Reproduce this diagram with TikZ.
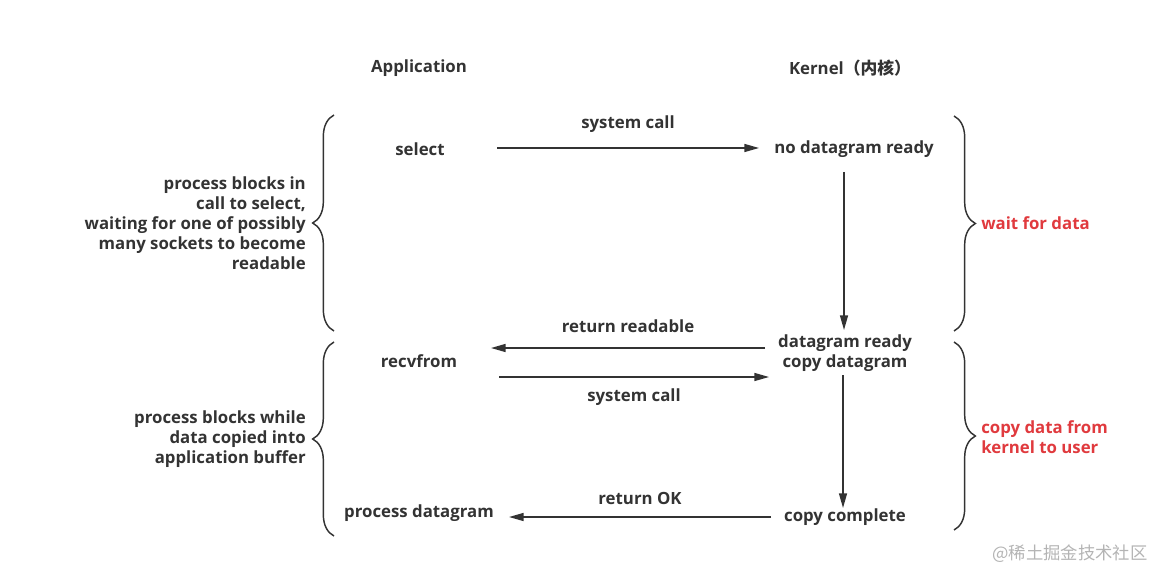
\documentclass[tikz,border=0pt]{standalone}
\usepackage{fontspec}
\setmainfont{Open Sans}
\newfontfamily\cjk{Noto Sans CJK SC}
\usetikzlibrary{arrows.meta,decorations.pathreplacing}
\definecolor{ink}{HTML}{333333}
\definecolor{alert}{HTML}{E03A3E}
\definecolor{mark}{HTML}{B4B4B4}
\tikzset{
  lbl/.style={text=ink, font=\bfseries\fontsize{12.6}{15}\selectfont, inner sep=0pt},
  msg/.style={draw=ink, line width=1.1pt, -{Triangle[length=11pt,width=6pt]}},
  curly/.style={draw=ink, line width=1.1pt, decorate,
    decoration={brace, amplitude=16pt}}
}
\begin{document}
\begin{tikzpicture}[x=0.75pt, y=-0.75pt]
      \useasboundingbox (0,0) rectangle (1169,584);

      \begin{scope}[every node/.style={lbl}]
        \node (app)  at (419,68)  {Application};
        \node (ker)  at (850,68)  {Kernel{\cjk （内核）}};
        \node (sel)  at (420,149) {select};
        \node (nodg) at (854,149) {no datagram ready};
        \node (dgr)  at (845,353) [align=center] {datagram ready\\copy datagram};
        \node (recv) at (419,361) {recvfrom};
        \node (cpc)  at (845,517) {copy complete};
        \node (proc) at (419,513) {process datagram};
      \end{scope}

      % connector end points
      \coordinate (s1) at (497,148);  \coordinate (e1) at (759,148);
      \coordinate (s2) at (844,172);  \coordinate (e2) at (844,330);
      \coordinate (s3) at (765,348);  \coordinate (e3) at (491,348);
      \coordinate (s4) at (499,377);  \coordinate (e4) at (769,377);
      \coordinate (s5) at (843,375);  \coordinate (e5) at (843,508);
      \coordinate (s6) at (771,517);  \coordinate (e6) at (509,517);

      \begin{scope}[every node/.style={lbl}]
        \path[msg] (s1) -- node[above=11pt] {system call} (e1);
        \path[msg] (s2) -- (e2);
        \path[msg] (s3) -- node[above=11pt] {return readable} (e3);
        \path[msg] (s4) -- node[below=8pt] {system call} (e4);
        \path[msg] (s5) -- (e5);
        \path[msg] (s6) -- node[above=9pt] {return OK} (e6);
      \end{scope}

      % braces
      \coordinate (la1) at (334,331); \coordinate (lb1) at (334,115);
      \coordinate (la2) at (334,536); \coordinate (lb2) at (334,342);
      \coordinate (ra1) at (954,116); \coordinate (rb1) at (954,331);
      \coordinate (ra2) at (954,342); \coordinate (rb2) at (954,530);
      \path[curly] (la1) -- (lb1);
      \path[curly] (la2) -- (lb2);
      \path[curly] (ra1) -- (rb1);
      \path[curly] (ra2) -- (rb2);

      \begin{scope}[every node/.style={lbl}]
        \node (wblk) at (306,223) [anchor=east, align=right]
          {process blocks in\\call to select,\\waiting for one of possibly\\many sockets to become\ \\readable};
        \node (cblk) at (306,439) [anchor=east, align=right]
          {process blocks while\\data copied into\\application buffer};
        \node (wait) at (981,223) [anchor=west, text=alert] {wait for data};
        \node (copy) at (981,437) [anchor=west, align=left, text=alert]
          {copy data from\\kernel to user};
        \node (wm)   at (1070,554) [text=mark, font=\cjk\fontsize{13}{15}\selectfont] {@稀土掘金技术社区};
      \end{scope}

    \end{tikzpicture}
\end{document}
